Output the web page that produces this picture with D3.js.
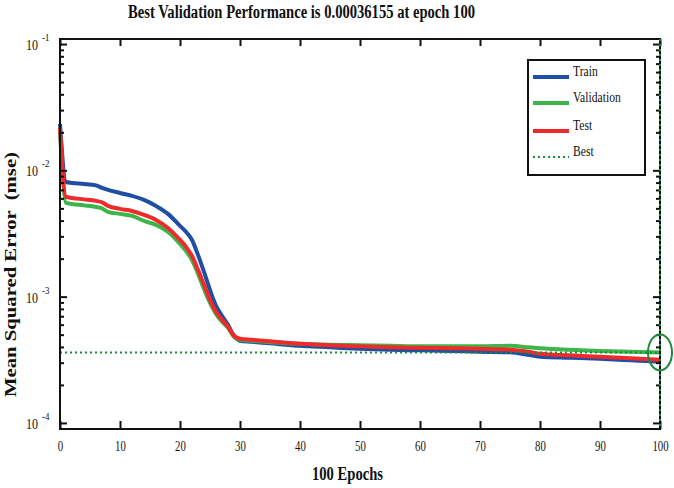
<!DOCTYPE html>
<html>
<head>
<meta charset="utf-8">
<script src="https://cdn.jsdelivr.net/npm/d3@7"></script>
<style>
  body { margin: 0; background: #fff; }
  text { font-family: "Liberation Serif", "Times New Roman", serif; fill: #111; }
</style>
</head>
<body>
<script>
const epochs = [0, 1, 2, 4, 6, 7, 8, 10, 12, 14, 16, 18, 20, 21, 22, 23, 24, 25, 26, 27, 28, 29, 30,
  32, 35, 40, 45, 50, 55, 60, 65, 70, 75, 78, 80, 85, 90, 95, 100];

const trainMse = [0.0233, 0.00809, 0.00795, 0.00781, 0.00760, 0.00727, 0.00700, 0.00662, 0.00627,
  0.00583, 0.00523, 0.00452, 0.00363, 0.00326, 0.00281, 0.00214, 0.00157, 0.00113, 0.000846,
  0.000705, 0.000598, 0.000490, 0.000447, 0.000439, 0.000427, 0.000408, 0.000397, 0.000386,
  0.000379, 0.000376, 0.000372, 0.000366, 0.000362, 0.000346, 0.000334, 0.000328, 0.000322,
  0.000313, 0.000305];

const valMse = [0.0201, 0.00552, 0.00542, 0.00528, 0.00513, 0.00500, 0.00469, 0.00452, 0.00436,
  0.00398, 0.00370, 0.00326, 0.00262, 0.00230, 0.00195, 0.00152, 0.00115, 0.000893, 0.000731,
  0.000632, 0.000566, 0.000481, 0.000455, 0.000447, 0.000435, 0.000423, 0.000416, 0.000412,
  0.000408, 0.000404, 0.000404, 0.000404, 0.000408, 0.000397, 0.000390, 0.000379, 0.000372,
  0.000366, 0.00036155];

const testMse = [0.02165, 0.00616, 0.00605, 0.00589, 0.00573, 0.00557, 0.00523, 0.00495, 0.00477,
  0.00444, 0.00405, 0.00350, 0.00281, 0.00248, 0.00210, 0.00163, 0.00124, 0.000943, 0.000758,
  0.000655, 0.000577, 0.000490, 0.000464, 0.000455, 0.000443, 0.000423, 0.000412, 0.000404,
  0.000397, 0.000393, 0.000390, 0.000386, 0.000379, 0.000366, 0.000353, 0.000343, 0.000334,
  0.000325, 0.000316];

const bestPerf = 0.00036155;
const bestEpoch = 100;

const xTicks = [0, 10, 20, 30, 40, 50, 60, 70, 80, 90, 100];
const yDecades = [-1, -2, -3, -4];
const legendNames = ['Train', 'Validation', 'Test', 'Best'];

const colors = { train: '#1f4ea5', val: '#3db54a', test: '#ee2a2a', best: '#1e8a3c' };

const W = 674, H = 488;
const margin = { top: 39, right: 14, bottom: 59, left: 60 };
const width = W - margin.left - margin.right;
const height = H - margin.top - margin.bottom;

const svg = d3.select('body').append('svg')
  .attr('width', W)
  .attr('height', H);

const g = svg.append('g')
  .attr('transform', `translate(${margin.left},${margin.top})`);

const x = d3.scaleLinear().domain([0, 100]).range([0, width]);
const y = d3.scaleLog().domain([Math.pow(10, -4.048), Math.pow(10, -0.96)]).range([height, 0]);

// minor log ticks 2..9 for each decade
const minorTicks = [];
[-4, -3, -2].forEach(e => {
  for (let m = 2; m <= 9; m++) minorTicks.push(m * Math.pow(10, e));
});
const majorTicks = yDecades.map(e => Math.pow(10, e));

// curves
const line = d3.line()
  .x((d, i) => x(epochs[i]))
  .y(d => y(d))
  .curve(d3.curveMonotoneX);

[[trainMse, colors.train], [valMse, colors.val], [testMse, colors.test]].forEach(([vals, c]) => {
  g.append('path')
    .datum(vals)
    .attr('fill', 'none')
    .attr('stroke', c)
    .attr('stroke-width', 4)
    .attr('stroke-linejoin', 'round')
    .attr('d', line);
});

// best lines
g.append('line')
  .attr('x1', x(0)).attr('x2', x(bestEpoch))
  .attr('y1', y(bestPerf)).attr('y2', y(bestPerf))
  .attr('stroke', colors.best)
  .attr('stroke-width', 2)
  .attr('stroke-dasharray', '2,3');

// axes (ticks pointing inward on all four sides)
function styleAxis(sel) {
  sel.select('.domain').remove();
  sel.selectAll('.tick line').attr('stroke', '#111').attr('stroke-width', 2);
}

g.append('g')
  .attr('transform', `translate(0,${height})`)
  .call(d3.axisBottom(x).tickValues(xTicks).tickSizeInner(-8).tickSizeOuter(0).tickPadding(11))
  .call(styleAxis)
  .selectAll('text')
  .style('font-size', '15px')
  .attr('fill', '#111')
  .attr('transform', 'scale(0.72,1)');

g.append('g')
  .call(d3.axisTop(x).tickValues(xTicks).tickSize(-7).tickFormat(''))
  .call(styleAxis);

g.append('g')
  .call(d3.axisLeft(y).tickValues(majorTicks).tickSize(-7).tickFormat(''))
  .call(styleAxis);
g.append('g')
  .call(d3.axisLeft(y).tickValues(minorTicks).tickSize(-4).tickFormat(''))
  .call(styleAxis);
g.append('g')
  .attr('transform', `translate(${width},0)`)
  .call(d3.axisRight(y).tickValues(majorTicks).tickSize(-7).tickFormat(''))
  .call(styleAxis);
g.append('g')
  .attr('transform', `translate(${width},0)`)
  .call(d3.axisRight(y).tickValues(minorTicks).tickSize(-4).tickFormat(''))
  .call(styleAxis);

// decade labels 10^e
const decLab = g.append('g');
yDecades.forEach(e => {
  const yy = y(Math.pow(10, e));
  decLab.append('text')
    .attr('transform', `translate(-22,${yy + 6}) scale(0.8,1)`)
    .attr('text-anchor', 'end')
    .style('font-size', '15px')
    .text('10');
  decLab.append('text')
    .attr('transform', `translate(-18,${yy - 3}) scale(0.8,1)`)
    .style('font-size', '11px')
    .text('-' + Math.abs(e));
});

// frame
g.append('rect')
  .attr('width', width).attr('height', height)
  .attr('fill', 'none')
  .attr('stroke', '#111')
  .attr('stroke-width', 2);

// vertical best marker over right edge
g.append('line')
  .attr('x1', x(bestEpoch)).attr('x2', x(bestEpoch))
  .attr('y1', 0).attr('y2', height)
  .attr('stroke', colors.best)
  .attr('stroke-width', 2)
  .attr('stroke-dasharray', '2,3');

g.append('ellipse')
  .attr('cx', x(bestEpoch)).attr('cy', y(bestPerf))
  .attr('rx', 12).attr('ry', 18)
  .attr('fill', 'none')
  .attr('stroke', colors.best)
  .attr('stroke-width', 2);

// legend
const leg = svg.append('g').attr('transform', 'translate(528,60)');
leg.append('rect')
  .attr('width', 117).attr('height', 115)
  .attr('fill', '#fff')
  .attr('stroke', '#111')
  .attr('stroke-width', 2);
const legColors = [colors.train, colors.val, colors.test, colors.best];
const legY = [17, 43, 71, 97];
legendNames.forEach((name, i) => {
  const isBest = name === 'Best';
  leg.append('line')
    .attr('x1', 5).attr('x2', 41)
    .attr('y1', legY[i]).attr('y2', legY[i])
    .attr('stroke', legColors[i])
    .attr('stroke-width', isBest ? 2 : 4)
    .attr('stroke-dasharray', isBest ? '2,3' : null);
  leg.append('text')
    .attr('transform', `translate(45,${legY[i] - 1}) scale(0.83,1)`)
    .style('font-size', '14px')
    .text(name);
});

// titles
svg.append('text')
  .attr('x', 128).attr('y', 18)
  .attr('textLength', 347)
  .attr('lengthAdjust', 'spacingAndGlyphs')
  .style('font-size', '18px')
  .style('font-weight', 'bold')
  .text('Best Validation Performance is 0.00036155 at epoch 100');

svg.append('text')
  .attr('x', 312).attr('y', 480)
  .attr('textLength', 71)
  .attr('lengthAdjust', 'spacingAndGlyphs')
  .style('font-size', '18px')
  .style('font-weight', 'bold')
  .text('100 Epochs');

svg.append('text')
  .attr('transform', 'translate(16,397) rotate(-90)')
  .attr('textLength', 245)
  .attr('lengthAdjust', 'spacingAndGlyphs')
  .style('font-size', '17px')
  .style('font-weight', 'bold')
  .style('white-space', 'pre')
  .text('Mean Squared Error  (mse)');
</script>
</body>
</html>
